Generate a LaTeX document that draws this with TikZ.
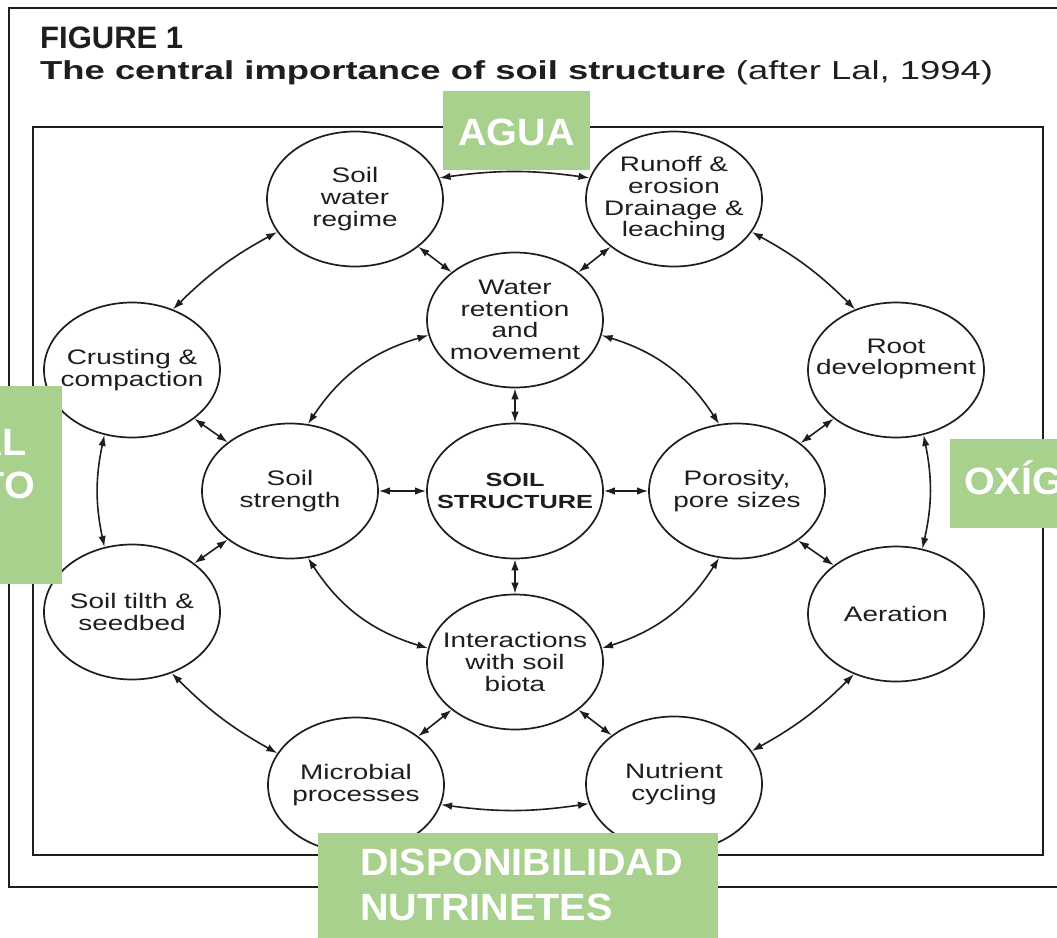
\documentclass[tikz,border=0pt]{standalone}
\usepackage{fontspec}
\setmainfont{Liberation Sans}
\newfontfamily\circfont{Liberation Sans}[FakeStretch=1.33]
\newfontfamily\titlefont{Liberation Sans}[FakeStretch=1.4]
\newfontfamily\greenfont{Liberation Sans}[FakeStretch=1.04]
\usetikzlibrary{shapes.geometric,arrows.meta}
\definecolor{gbox}{RGB}{169,209,142}
\definecolor{ink}{RGB}{30,30,30}
\tikzset{
  circ/.style={ellipse, draw=ink, line width=1.7pt, minimum width=176pt, minimum height=135pt,
    inner sep=0pt},
  circtext/.style={inner sep=0pt, align=center, text=ink, font=\circfont\fontsize{21}{21.7}\selectfont},
  boldtext/.style={inner sep=0pt, align=center, text=ink, font=\circfont\bfseries\fontsize{19}{21.7}\selectfont},
  conn/.style={{Latex[length=11pt,width=7.5pt]}-{Latex[length=11pt,width=7.5pt]}, line width=1.6pt, draw=ink},
  frame/.style={draw=ink, line width=2.6pt},
  gfill/.style={fill=gbox},
  gtext/.style={inner sep=0pt, text=white, font=\greenfont\bfseries\fontsize{38}{45}\selectfont}
}
\begin{document}
\begin{tikzpicture}[x=1pt,y=1pt]
\useasboundingbox (0,0) rectangle (1057,-937);
\clip (0,0) rectangle (1057,-937);
\fill[white] (0,0) rectangle (1057,-937);

% frames
\draw[frame] (9,-8) rectangle (1075,-887);
\draw[frame, line width=2.8pt] (33,-127) rectangle (1043,-855);

% title
\node[anchor=base west, inner sep=0pt, text=ink, font=\bfseries\fontsize{31}{31}\selectfont] (fig) at (40,-48) {FIGURE 1};
\node[anchor=base west, inner sep=0pt, text=ink, font=\titlefont\fontsize{26}{26}\selectfont] (title) at (40,-79)
  {\textbf{The central importance of soil structure} (after Lal, 1994)};

% ellipses
\node[circ, label={[circtext]center:Soil\\water\\regime}] (swr) at (355,-199) {};
\node[circ, label={[circtext]center:Runoff \&\\erosion\\Drainage \&\\leaching}] (run) at (674,-199) {};
\node[circ, label={[circtext]center:Water\\retention\\and\\movement}] (wrm) at (515,-320) {};
\node[circ, label={[circtext]center:Crusting \&\\compaction}] (cru) at (132,-370) {};
\node[circ, label={[circtext, yshift=11pt]center:Root\\development}] (root) at (896,-370) {};
\node[circ, label={[circtext]center:Soil\\strength}] (str) at (290,-491) {};
\node[circ, label={[boldtext]center:SOIL\\STRUCTURE}] (ss) at (515,-491) {};
\node[circ, label={[circtext]center:Porosity,\\pore sizes}] (por) at (737,-491) {};
\node[circ, label={[circtext]center:Soil tilth \&\\seedbed}] (til) at (132,-612) {};
\node[circ, label={[circtext]center:Aeration}] (aer) at (896,-614) {};
\node[circ, label={[circtext]center:Interactions\\with soil\\biota}] (int) at (515,-662) {};
\node[circ, label={[circtext]center:Microbial\\processes}] (mic) at (356,-785) {};
\node[circ, label={[circtext]center:Nutrient\\cycling}] (nut) at (674,-784) {};

% connectors
\draw[conn] (swr.14) to[bend left=8] (run.166);
\draw[conn] (swr.-37) -- (wrm.143);
\draw[conn] (run.217) -- (wrm.37);
\draw[conn] (cru.56) to[bend left=8] (swr.203);
\draw[conn] (run.-23) to[bend left=8] (root.124);
\draw[conn] (wrm.190) to[bend right=20] (str.75);
\draw[conn] (wrm.-10) to[bend left=20] (por.105);
\draw[conn] (wrm.south) -- (ss.north);
\draw[conn] (cru.-38) -- (str.142);
\draw[conn] (str.east) -- (ss.west);
\draw[conn] (ss.east) -- (por.west);
\draw[conn] (cru.247) to[bend right=12] (til.113);
\draw[conn] (str.218) -- (til.38);
\draw[conn] (root.218) -- (por.37);
\draw[conn] (root.-67) to[bend left=12] (aer.68);
\draw[conn] (por.-39) -- (aer.142);
\draw[conn] (str.-75) to[bend right=20] (int.171);
\draw[conn] (por.-105) to[bend left=20] (int.9);
\draw[conn] (ss.south) -- (int.north);
\draw[conn] (til.-57) to[bend right=8] (mic.158);
\draw[conn] (int.217) -- (mic.38);
\draw[conn] (int.-37) -- (nut.142);
\draw[conn] (aer.235) to[bend left=8] (nut.23);
\draw[conn] (mic.-13) to[bend right=8] (nut.193);

% green labels
\fill[gfill] (443,-91) rectangle (590,-170);
\node[gtext, anchor=base] (agua) at (516.5,-145) {AGUA};

\fill[gfill] (-5,-386) rectangle (62,-584);
\node[gtext, anchor=base east] (al) at (27,-455) {AL};
\node[gtext, anchor=base east] (to) at (35,-498) {TO};

\fill[gfill] (950,-439) rectangle (1070,-528);
\node[gtext, anchor=base west] (oxi) at (964,-494) {OXÍG};

\fill[gfill] (318,-833) rectangle (718,-945);
\node[gtext, anchor=base west] (disp) at (360,-875) {DISPONIBILIDAD};
\node[gtext, anchor=base west] (nutr) at (360,-920) {NUTRINETES};
\end{tikzpicture}
\end{document}
